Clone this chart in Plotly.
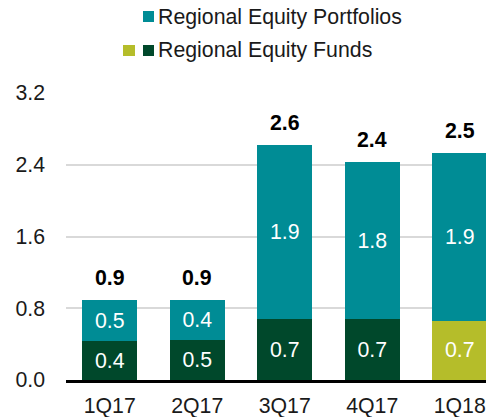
import plotly.graph_objects as go

quarters = ['1Q17', '2Q17', '3Q17', '4Q17', '1Q18']
funds = [0.43, 0.45, 0.68, 0.68, 0.66]
portfolios = [0.46, 0.44, 1.94, 1.75, 1.87]
totals = [f + p for f, p in zip(funds, portfolios)]

TEAL = '#008C95'
DARK = '#00482B'
LIME = '#B5BD2A'
FONT = 'Liberation Sans, Arial, sans-serif'
FS = 21.3  # 16pt

fund_colors = [DARK] * 4 + [LIME]

fig = go.Figure()
fig.add_trace(go.Bar(
    x=quarters, y=funds, name='Regional Equity Funds',
    marker=dict(color=fund_colors, line=dict(width=0)),
    text=funds, texttemplate='%{y:.1f}', textposition='inside',
    insidetextanchor='middle', textangle=0, constraintext='none',
    textfont=dict(color='white', size=FS, family=FONT),
))
fig.add_trace(go.Bar(
    x=quarters, y=portfolios, name='Regional Equity Portfolios',
    marker=dict(color=TEAL, line=dict(width=0)),
    text=portfolios, texttemplate='%{y:.1f}', textposition='inside',
    insidetextanchor='middle', textangle=0, constraintext='none',
    textfont=dict(color='white', size=FS, family=FONT),
))

annotations = [
    dict(x=q, y=t, text='<b>%.1f</b>' % t, showarrow=False,
         yanchor='bottom', yshift=8, font=dict(size=FS, color='black', family=FONT))
    for q, t in zip(quarters, totals)
]

# hand-drawn legend (pixel positions mapped to paper coords)
def px_x(p):
    return (p - 66) / 420

def px_y(p):
    return 1 + (93 - p) / 287

annotations += [
    dict(xref='paper', yref='paper', x=px_x(156), y=px_y(17),
         xanchor='left', yanchor='middle', text='Regional Equity Portfolios',
         showarrow=False, font=dict(size=FS, color='#1a1a1a', family=FONT)),
    dict(xref='paper', yref='paper', x=px_x(156), y=px_y(50),
         xanchor='left', yanchor='middle', text='Regional Equity Funds',
         showarrow=False, font=dict(size=FS, color='#1a1a1a', family=FONT)),
]

shapes = [
    dict(type='rect', xref='paper', yref='paper', line=dict(width=0), fillcolor=TEAL,
         x0=px_x(143), x1=px_x(154), y0=px_y(22), y1=px_y(11)),
    dict(type='rect', xref='paper', yref='paper', line=dict(width=0), fillcolor=LIME,
         x0=px_x(123), x1=px_x(135), y0=px_y(56), y1=px_y(45)),
    dict(type='rect', xref='paper', yref='paper', line=dict(width=0), fillcolor=DARK,
         x0=px_x(143), x1=px_x(154), y0=px_y(56), y1=px_y(45)),
]

fig.update_layout(
    barmode='stack',
    bargap=0.37,
    width=486, height=417,
    margin=dict(l=66, r=0, t=93, b=37),
    showlegend=False,
    plot_bgcolor='white',
    paper_bgcolor='white',
    font=dict(family=FONT, size=FS, color='#1a1a1a'),
    annotations=annotations,
    shapes=shapes,
    uniformtext=dict(minsize=FS, mode='show'),
)
fig.update_xaxes(
    range=[-0.5, 4.3], automargin=False,
    showline=True, linecolor='black', linewidth=3,
    showgrid=False, ticks='', ticklabelstandoff=4,
    tickfont=dict(size=FS),
)
fig.update_yaxes(
    range=[0, 3.2], tickvals=[0, 0.8, 1.6, 2.4, 3.2], tickformat='.1f',
    automargin=False,
    showgrid=True, gridcolor='#d9d9d9', gridwidth=1.5,
    zeroline=False, showline=False, ticks='', ticklabelstandoff=20,
    tickfont=dict(size=FS),
)

fig.write_html('out.html', config=dict(displayModeBar=False),
               post_script="document.body.style.margin='0';")
